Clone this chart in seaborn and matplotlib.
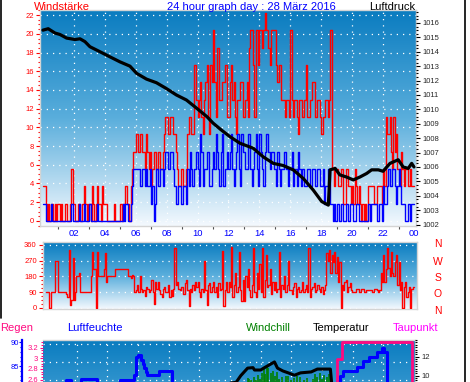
import numpy as np
import pandas as pd
import matplotlib
matplotlib.use("Agg")
import matplotlib.pyplot as plt
import seaborn as sns
from matplotlib.colors import LinearSegmentedColormap
from matplotlib.ticker import MultipleLocator, FixedLocator, FuncFormatter
from matplotlib.lines import Line2D

# ------------------------------------------------------------------ data
hour_ticks = [2, 4, 6, 8, 10, 12, 14, 16, 18, 20, 22, 24]
hour_labels = ["02", "04", "06", "08", "10", "12", "14", "16", "18", "20", "22", "00"]

# wind, 5-minute samples (one row per hour), in knots (plotted in km/h)
gust_kn = [2, 2, 1, 0, 1, 0, 1, 1, 0, 1, 0, 1,
           1, 0, 1, 0, 0, 1, 1, 0, 0, 1, 3, 1,
           1, 0, 0, 1, 1, 0, 1, 1, 2, 1, 0, 1,
           1, 0, 2, 1, 0, 1, 2, 1, 1, 0, 2, 1,
           1, 1, 0, 0, 0, 0, 0, 1, 0, 0, 0, 0,
           1, 0, 1, 1, 2, 1, 1, 0, 2, 3, 4, 4,
           5, 5, 4, 5, 5, 4, 4, 3, 5, 4, 3, 4,
           2, 3, 4, 4, 3, 4, 4, 3, 3, 4, 5, 6,
           6, 5, 5, 6, 6, 5, 5, 4, 3, 2, 2, 3,
           3, 2, 2, 3, 5, 6, 6, 5, 5, 9, 9, 7,
           6, 7, 8, 6, 5, 7, 8, 9, 6, 5, 9, 8,
           11, 8, 6, 10, 10, 7, 7, 8, 8, 9, 9, 6,
           6, 8, 9, 7, 8, 6, 5, 7, 7, 8, 8, 6,
           6, 7, 8, 6, 10, 11, 11, 9, 6, 11, 11, 9,
           11, 11, 10, 11, 12, 11, 11, 10, 9, 11, 11, 11,
           11, 9, 8, 9, 9, 7, 7, 7, 6, 7, 7, 6,
           11, 7, 6, 7, 7, 6, 5, 7, 7, 6, 6, 7,
           9, 6, 6, 7, 7, 8, 8, 6, 6, 7, 7, 6,
           5, 6, 6, 7, 7, 6, 7, 11, 3, 3, 2, 3,
           3, 2, 2, 3, 3, 1, 1, 3, 3, 2, 2, 1,
           2, 1, 3, 2, 1, 2, 1, 0, 1, 0, 1, 0,
           2, 2, 2, 2, 2, 1, 1, 2, 2, 2, 2, 1,
           3, 2, 6, 5, 5, 6, 4, 3, 6, 4, 5, 3,
           3, 2, 4, 3, 2, 3, 3, 2, 2, 3, 2, 2,
           2]
avg_kn = [1, 1, 0, 0, 0, 0, 1, 0, 0, 0, 0, 0,
          0, 0, 0, 0, 0, 0, 0, 0, 0, 0, 1, 0,
          0, 0, 0, 0, 1, 0, 0, 0, 1, 0, 0, 0,
          1, 0, 0, 0, 0, 0, 1, 0, 0, 0, 0, 0,
          0, 0, 0, 0, 0, 0, 0, 0, 0, 0, 0, 0,
          0, 0, 1, 0, 1, 1, 0, 0, 1, 2, 3, 3,
          3, 3, 3, 2, 2, 3, 3, 2, 3, 2, 2, 3,
          1, 2, 0, 1, 3, 2, 2, 3, 3, 2, 3, 4,
          4, 3, 3, 4, 4, 3, 2, 1, 1, 2, 2, 1,
          1, 2, 2, 1, 3, 2, 4, 3, 2, 3, 3, 4,
          3, 2, 5, 4, 2, 3, 3, 4, 4, 2, 2, 3,
          4, 3, 5, 4, 3, 2, 4, 5, 2, 3, 3, 4,
          3, 4, 5, 3, 2, 3, 4, 5, 3, 2, 5, 4,
          4, 3, 3, 5, 5, 3, 2, 3, 4, 5, 3, 2,
          5, 4, 3, 2, 4, 5, 5, 4, 3, 4, 4, 3,
          3, 2, 4, 3, 2, 3, 3, 4, 4, 3, 2, 3,
          3, 4, 2, 3, 3, 2, 4, 3, 2, 3, 3, 2,
          2, 3, 3, 2, 2, 3, 3, 2, 2, 3, 3, 2,
          2, 3, 1, 2, 2, 3, 3, 1, 1, 0, 1, 0,
          1, 1, 0, 1, 1, 0, 0, 1, 1, 0, 1, 1,
          1, 0, 0, 1, 1, 0, 0, 0, 0, 0, 0, 0,
          1, 1, 0, 1, 1, 1, 1, 0, 0, 1, 1, 0,
          2, 1, 1, 2, 3, 2, 2, 3, 3, 2, 1, 2,
          3, 2, 1, 1, 1, 0, 0, 1, 1, 0, 1, 1,
          1]
KMH_PER_KNOT = 1.852

press_hours = [0.0, 0.34, 0.78, 1.1, 1.53, 2.07, 2.4, 2.72, 3.04, 3.69, 4.33, 4.98,
               5.63, 6.06, 6.7, 7.34, 7.98, 8.63, 9.28, 9.92, 10.6, 11.0, 11.5, 12.1,
               12.74, 13.6, 14.25, 14.9, 15.54, 16.19, 16.84, 17.48, 18.03, 18.46, 18.57,
               18.9, 19.2, 19.64, 20.07, 20.5, 20.94, 21.26, 21.69, 22.0, 22.45, 22.98,
               23.3, 23.63, 23.85, 24.0]
press_hpa = [1015.5, 1015.6, 1015.3, 1015.2, 1014.95, 1014.85, 1014.9, 1014.7, 1014.35,
             1014.0, 1013.65, 1013.3, 1013.0, 1012.5, 1012.1, 1011.85, 1011.45, 1011.0,
             1010.65, 1010.1, 1009.5, 1009.05, 1008.6, 1008.1, 1007.65, 1007.3, 1006.7,
             1006.25, 1006.1, 1005.8, 1005.2, 1004.4, 1003.6, 1003.35, 1005.8, 1005.9,
             1005.45, 1005.3, 1005.1, 1005.3, 1005.55, 1005.8, 1005.8, 1005.7, 1006.25,
             1006.5, 1006.0, 1005.9, 1006.25, 1006.0]

# wind direction, 5-minute samples (one row per hour), degrees
dir_deg = [np.nan, np.nan, 90, 90, 90, 0, 90, 90, 90, 270, 270, 270,
           90, 90, 90, 90, 90, 90, 80, 60, 330, 15, 45, 285,
           45, 90, 180, 180, 200, 90, 90, 90, 90, 90, 90, 90,
           90, 180, 320, 220, 220, 0, 320, 180, 180, 180, 180, 220,
           315, 150, 180, 180, 180, 180, 180, 180, 220, 220, 220, 220,
           220, 220, 220, 220, 220, 220, 180, 180, 170, 190, 180, 90,
           100, 130, 90, 180, 110, 90, 100, 70, 120, 110, 90, 100,
           160, 90, 20, 150, 110, 150, 100, 80, 60, 110, 120, 90,
           90, 130, 60, 100, 70, 110, 340, 130, 150, 110, 100, 120,
           120, 80, 140, 160, 100, 10, 110, 90, 130, 100, 150, 120,
           150, 90, 60, 110, 90, 270, 100, 15, 130, 145, 90, 120,
           150, 90, 120, 60, 140, 100, 110, 325, 10, 100, 150, 90,
           150, 120, 345, 60, 130, 200, 90, 120, 320, 100, 40, 160,
           40, 180, 120, 220, 100, 60, 130, 340, 90, 60, 200, 110,
           250, 90, 340, 60, 160, 300, 120, 130, 220, 80, 150, 100,
           150, 90, 110, 320, 60, 130, 110, 180, 90, 130, 270, 100,
           100, 80, 120, 140, 60, 110, 120, 90, 100, 150, 90, 110,
           130, 90, 340, 60, 110, 120, 140, 90, 100, 130, 110, 90,
           120, 80, 100, 130, 310, 270, 330, 200, 300, 260, 320, 200,
           290, 150, 260, 0, 130, 100, 150, 160, 90, 120, 140, 100,
           90, 90, 90, 110, 110, 90, 90, 110, 110, 90, 90, 100,
           100, 100, 100, 90, 90, 110, 110, 100, 90, 100, 200, 150,
           300, 150, 220, 340, 230, 180, 320, 200, 180, 260, 300, 130,
           260, 100, 150, 0, 120, 150, 60, 90, 120, 0, 110, 120,
           120]
dir_letters = ["N", "W", "S", "O", "N"]

hum_hours = [0, 1.3, 1.6, 2.3, 3.3, 4.85, 5.75, 5.85, 6.0, 6.2, 6.3, 6.4, 6.5, 6.6,
             7.35, 8.2, 19.0, 19.15, 19.35, 20.3, 20.7, 21.1, 21.6, 21.9, 22.05, 22.25, 24]
hum_pct = [79, 82.0, 81.3, 82.2, 81.3, 82.1, 83.1, 87.0, 87.3, 86.2, 85.5, 84.5, 83.8,
           83.1, 84.0, 78, 81.8, 82.8, 84.0, 84.8, 86.1, 86.9, 88.0, 88.8, 88.0, 78, 78]

temp_hours = [0, 12.4, 12.7, 13.15, 13.5, 13.6, 14.0, 14.2, 14.9, 15.1, 15.45, 15.8,
              16.2, 16.6, 17.3, 17.7, 18.55, 18.7, 24]
temp_c = [7.0, 9.3, 10.0, 10.8, 10.85, 10.6, 10.6, 10.8, 11.45, 10.8, 10.5, 10.3,
          10.05, 10.3, 10.4, 10.7, 10.7, 8.0, 7.0]

wc_hours = [13.15, 13.25, 13.4, 13.55, 13.7, 13.8, 13.95, 14.1, 14.2, 14.3, 14.4, 14.5,
            14.7, 14.8, 14.95, 15.05, 15.2, 15.4, 15.65, 15.8, 16.0, 16.2, 16.4, 16.55,
            16.8, 17.05, 17.4, 17.55, 17.7, 17.85, 18.0, 18.15, 18.3, 18.45]
wc_c = [9.8, 9.7, 9.5, 9.9, 9.6, 10.1, 9.7, 10.3, 10.7, 10.2, 11.0, 10.8, 10.3, 10.5,
        10.0, 10.4, 9.7, 9.9, 10.0, 10.0, 9.6, 9.8, 10.0, 9.9, 9.6, 9.8, 9.7, 10.2, 9.9,
        10.3, 9.7, 10.1, 9.9, 10.2]

dew_hours = [0, 18.95, 19.3, 23.9, 24]
dew_c = [8.0, 11.75, 13.6, 8.0, 8.0]

rain_ticks = [2.6, 2.8, 3.0, 3.2]
hum_ticks = [85, 90]
temp_ticks = [10, 12]

# ------------------------------------------------------------------ style
sns.set_style("white")
plt.rcParams["font.family"] = ["Liberation Sans", "DejaVu Sans"]

RED, BLUE, GREEN, PINK, MAG = "#ff0000", "#0000ff", "#008000", "#ff0a80", "#ff00ff"
W, H = 470, 382
fig = plt.figure(figsize=(W / 100, H / 100), dpi=100)


def rect(l, t, r, b):
    return [l / W, 1 - b / H, (r - l) / W, (b - t) / H]


ax1 = fig.add_axes(rect(40, 10, 416, 226))
ax2 = fig.add_axes(rect(43, 242, 417, 309))
ax3 = fig.add_axes(rect(43, 340, 415, 518))

sky = LinearSegmentedColormap.from_list("sky", ["#0a7cc0", "#5aaedc", "#f4f9fe"])
DOT = (0, (1, 4))


def gradient(ax):
    ax.imshow(np.linspace(0, 1, 256).reshape(-1, 1), cmap=sky, extent=[0, 1, 0, 1],
              transform=ax.transAxes, aspect="auto", zorder=0, interpolation="bilinear")


def spines(ax, color="#d4d4d4"):
    for s in ax.spines.values():
        s.set_color(color)
        s.set_linewidth(1)


# ------------------------------------------------------------------ panel 1
gradient(ax1)
wind = pd.DataFrame({"hour": np.arange(len(gust_kn)) / 12,
                     "gust": np.array(gust_kn) * KMH_PER_KNOT,
                     "avg": np.array(avg_kn) * KMH_PER_KNOT})
sns.lineplot(data=wind, x="hour", y="gust", ax=ax1, color=RED, lw=1.0,
             drawstyle="steps-post", estimator=None, legend=False, zorder=3)
sns.lineplot(data=wind, x="hour", y="avg", ax=ax1, color=BLUE, lw=1.0,
             drawstyle="steps-post", estimator=None, legend=False, zorder=4)
ax1.set_xlim(-0.19, 24.13)
ax1.set_ylim(-0.55, 22.55)
for h in hour_ticks[:-1]:
    ax1.axvline(h, color="white", lw=0.9, ls=DOT, zorder=1)
for v in range(0, 23, 2):
    ax1.axhline(v, color="white", lw=0.9, ls=DOT, zorder=1)
ax1.xaxis.set_major_locator(FixedLocator(hour_ticks))
ax1.set_xticklabels(hour_labels)
ax1.xaxis.set_minor_locator(FixedLocator(list(range(1, 24, 2))))
ax1.tick_params(axis="x", which="major", length=0, pad=2.5, labelsize=6.8, labelcolor=BLUE)
ax1.tick_params(axis="x", which="minor", length=2, width=0.8, color="#505050", bottom=True)
ax1.yaxis.set_major_locator(MultipleLocator(2))
ax1.yaxis.set_minor_locator(MultipleLocator(0.5))
ax1.tick_params(axis="y", which="major", length=3, width=0.8, color=RED, labelcolor=RED,
                labelsize=5.5, pad=1.5, left=True)
ax1.tick_params(axis="y", which="minor", length=1.6, width=0.8, color=RED, left=True)
ax1.set_xlabel("")
ax1.set_ylabel("")
spines(ax1)

ax1p = ax1.twinx()
sns.lineplot(x=press_hours, y=press_hpa, ax=ax1p, color="black", lw=2.3, estimator=None)
ax1p.set_ylim(1001.9, 1016.9)
ax1p.yaxis.set_major_locator(MultipleLocator(1))
ax1p.yaxis.set_minor_locator(MultipleLocator(0.25))
ax1p.tick_params(axis="y", which="major", length=3, width=0.8, color="black",
                 labelsize=5.5, pad=1.5, right=True)
ax1p.tick_params(axis="y", which="minor", length=1.5, width=0.8, color="black", right=True)
ax1p.set_ylabel("")
for s in ax1p.spines.values():
    s.set_visible(False)

# ------------------------------------------------------------------ panel 2
gradient(ax2)
wdir = pd.DataFrame({"hour": np.arange(len(dir_deg)) / 12, "deg": dir_deg}).dropna()
sns.lineplot(data=wdir, x="hour", y="deg", ax=ax2, color=RED, lw=1.0,
             drawstyle="steps-post", estimator=None, legend=False, zorder=3)
ax2.set_xlim(0, 24.19)
ax2.set_ylim(-5.7, 375.4)
for v in range(0, 361, 90):
    ax2.axhline(v, color="white", lw=0.9, ls=DOT, zorder=1)
ax2.set_xticks([])
ax2.yaxis.set_major_locator(MultipleLocator(90))
ax2.yaxis.set_minor_locator(MultipleLocator(22.5))
ax2.tick_params(axis="y", which="major", length=3, width=0.8, color=RED, labelcolor=RED,
                labelsize=5.5, pad=1.5, left=True)
ax2.tick_params(axis="y", which="minor", length=1.6, width=0.8, color=RED, left=True)
ax2.set_xlabel("")
ax2.set_ylabel("")
spines(ax2)
for letter, y in zip(dir_letters, [244, 262.3, 278.3, 294.3, 310.7]):
    fig.text(438 / W, 1 - y / H, letter, color=RED, fontsize=7.5, ha="center", va="center")

# ------------------------------------------------------------------ panel 3
gradient(ax3)
ax3.set_xlim(-0.2, 24.07)
ax3.set_ylim(0, 3.344)
for h in hour_ticks[:-1]:
    ax3.axvline(h, color="white", lw=0.9, ls=DOT, zorder=1)
for f in np.arange(0.075, 1.0, 0.1):
    ax3.plot([0, 1], [f, f], transform=ax3.transAxes, color="white", lw=0.9, ls=DOT, zorder=1)
ax3.set_xticks([])
ax3.yaxis.set_major_locator(FixedLocator(rain_ticks))
ax3.yaxis.set_minor_locator(MultipleLocator(0.05))
ax3.yaxis.set_major_formatter(FuncFormatter(lambda v, p: f"{v:g}"))
ax3.tick_params(axis="y", which="major", length=2.5, width=0.8, color=PINK, labelcolor=PINK,
                labelsize=5.5, pad=1, left=True)
ax3.tick_params(axis="y", which="minor", length=1.5, width=0.8, color=PINK, left=True)
spines(ax3)
ax3.spines["left"].set_visible(False)

ax3h = ax3.twinx()
sns.lineplot(x=hum_hours, y=hum_pct, ax=ax3h, color=BLUE, lw=2.2,
             drawstyle="steps-post", estimator=None)
ax3h.set_ylim(52.9, 90.5)
ax3h.yaxis.tick_left()
for s in ax3h.spines.values():
    s.set_visible(False)
ax3h.spines["left"].set_visible(True)
ax3h.spines["left"].set_position(("outward", 15))
ax3h.spines["left"].set_color(BLUE)
ax3h.spines["left"].set_linewidth(1.6)
ax3h.yaxis.set_major_locator(FixedLocator(hum_ticks))
ax3h.yaxis.set_minor_locator(MultipleLocator(1))
ax3h.tick_params(axis="y", which="major", length=2, width=0.8, color=BLUE, labelcolor=BLUE,
                 labelsize=5.5, pad=0.5)
ax3h.tick_params(axis="y", which="minor", length=1.2, width=0.8, color=BLUE)
ax3h.set_ylabel("")

ax3t = ax3.twinx()
ax3t.vlines(wc_hours, -4.98, wc_c, color=GREEN, lw=1.2, zorder=2)
sns.lineplot(x=temp_hours, y=temp_c, ax=ax3t, color="black", lw=2.2, estimator=None, zorder=3)
sns.lineplot(x=dew_hours, y=dew_c, ax=ax3t, color=PINK, lw=2.0,
             drawstyle="steps-post", estimator=None, zorder=4)
ax3t.set_xlim(-0.2, 24.07)
ax3t.set_ylim(-4.98, 13.76)
ax3t.yaxis.set_major_locator(FixedLocator(temp_ticks))
ax3t.yaxis.set_minor_locator(MultipleLocator(0.25))
ax3t.tick_params(axis="y", which="major", length=3, width=0.8, color="black",
                 labelsize=5.5, pad=1.5, right=True)
ax3t.tick_params(axis="y", which="minor", length=1.5, width=0.8, color="black", right=True)
ax3t.set_ylabel("")
for s in ax3t.spines.values():
    s.set_visible(False)

# ------------------------------------------------------------------ texts and frame
def label(x, y, s, color, ha="left"):
    fig.text(x / W, 1 - y / H, s, color=color, fontsize=8, ha=ha, va="baseline")


label(34, 10.3, "Windstärke", RED)
label(251, 10.3, "24 hour graph day : 28 März 2016", BLUE, ha="center")
label(415, 10.3, "Luftdruck", "black", ha="right")
label(0, 330.7, "Regen", PINK)
label(67, 330.7, "Luftfeuchte", BLUE)
label(246, 330.7, "Windchill", GREEN)
label(313, 330.7, "Temperatur", "black")
label(393, 330.7, "Taupunkt", MAG)

fig.add_artist(Line2D([0.6 / W, 0.6 / W], [1, 1 - 318 / H], color="black", lw=1.2))
fig.add_artist(Line2D([464.5 / W, 464.5 / W], [1, 0], color="black", lw=1.2))

fig.savefig("out.png", dpi=100)
